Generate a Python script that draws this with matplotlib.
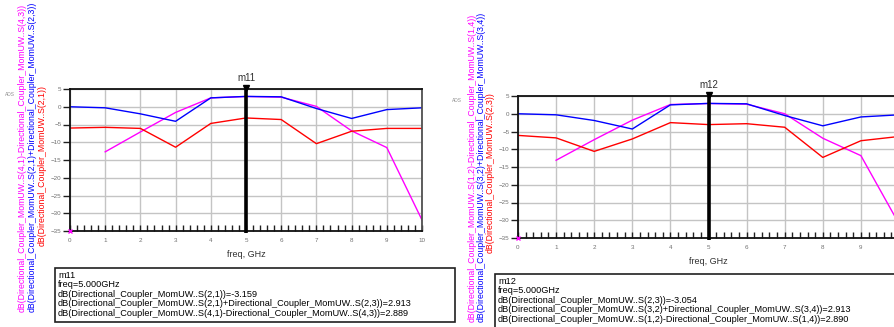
"""Coupler sweep: two ADS-style rectangular plots with marker readouts."""
import matplotlib
matplotlib.use("Agg")
import matplotlib.pyplot as plt
from matplotlib.patches import Rectangle
from matplotlib.ticker import MultipleLocator

plt.rcParams["font.family"] = ["Liberation Sans", "DejaVu Sans"]

W, H = 894, 327

freq = [0, 1, 2, 3, 4, 5, 6, 7, 8, 9, 10]
freq_ticks = ["0", "1", "2", "3", "4", "5", "6", "7", "8", "9", "10"]

# m11 plot: S21, S21+S23, S41-S43 (dB)
s21 = [-6.0, -5.8, -6.1, -11.4, -4.7, -3.159, -3.6, -10.4, -6.9, -6.1, -6.1]
s21_s23 = [0.0, -0.3, -2.0, -4.1, 2.5, 2.913, 2.8, -0.5, -3.3, -0.8, -0.3]
freq_iso1 = [1, 2, 3, 4, 5, 6, 7, 8, 9, 10]
s41_s43 = [-12.7, -7.1, -1.6, 2.5, 2.889, 2.7, 0.1, -6.8, -11.5, -31.9]

# m12 plot: S23, S32+S34, S12-S14 (dB)
s23 = [-6.1, -6.8, -10.6, -7.1, -2.5, -3.054, -2.8, -3.8, -12.3, -7.6, -6.4]
s32_s34 = [0.0, -0.3, -1.9, -4.3, 2.5, 2.913, 2.8, -0.5, -3.4, -0.9, -0.3]
freq_iso2 = [1, 2, 3, 4, 5, 6, 7, 8, 9, 10]
s12_s14 = [-13.1, -7.3, -1.8, 2.6, 2.890, 2.7, 0.0, -6.9, -11.8, -31.0]

marker_freq = 5.0

plots = [
    dict(name="m11", box=(70, 89, 422, 231),
         curves=[(freq_iso1, s41_s43, "#ff00ff"), (freq, s21_s23, "#0000ff"), (freq, s21, "#ff0000")],
         ylabels=["dB(Directional_Coupler_MomUW..S(4,1)-Directional_Coupler_MomUW..S(4,3))",
                  "dB(Directional_Coupler_MomUW..S(2,1)+Directional_Coupler_MomUW..S(2,3))",
                  "dB(Directional_Coupler_MomUW..S(2,1))"],
         ylab_x=[22, 32, 42], ylab_bottom=312, xlabels=freq_ticks,
         readout=["m11", "freq=5.000GHz",
                  "dB(Directional_Coupler_MomUW..S(2,1))=-3.159",
                  "dB(Directional_Coupler_MomUW..S(2,1)+Directional_Coupler_MomUW..S(2,3))=2.913",
                  "dB(Directional_Coupler_MomUW..S(4,1)-Directional_Coupler_MomUW..S(4,3))=2.889"],
         rbox=(55, 268, 455, 322), ads=(10, 94)),
    dict(name="m12", box=(518, 96, 899, 238),
         curves=[(freq_iso2, s12_s14, "#ff00ff"), (freq, s32_s34, "#0000ff"), (freq, s23, "#ff0000")],
         ylabels=["dB(Directional_Coupler_MomUW..S(1,2)-Directional_Coupler_MomUW..S(1,4))",
                  "dB(Directional_Coupler_MomUW..S(3,2)+Directional_Coupler_MomUW..S(3,4))",
                  "dB(Directional_Coupler_MomUW..S(2,3))"],
         ylab_x=[472, 481, 490], ylab_bottom=322, xlabels=freq_ticks[:-1] + [""],
         readout=["m12", "freq=5.000GHz",
                  "dB(Directional_Coupler_MomUW..S(2,3))=-3.054",
                  "dB(Directional_Coupler_MomUW..S(3,2)+Directional_Coupler_MomUW..S(3,4))=2.913",
                  "dB(Directional_Coupler_MomUW..S(1,2)-Directional_Coupler_MomUW..S(1,4))=2.890"],
         rbox=(495, 274, 900, 330), ads=(457, 100)),
]

fig = plt.figure(figsize=(W / 100, H / 100), dpi=100)


def fx(x):
    return x / W


def fy(y):
    return 1 - y / H


for p in plots:
    x0, y0, x1, y1 = p["box"]
    ax = fig.add_axes([fx(x0), fy(y1), (x1 - x0) / W, (y1 - y0) / H])
    for xs, ys, c in p["curves"]:
        ax.plot(xs, ys, color=c, lw=1.0)
    ax.set_xlim(0, 10)
    ax.set_ylim(-35, 5)
    ax.set_xticks(freq)
    ax.set_xticklabels(p["xlabels"])
    ax.xaxis.set_minor_locator(MultipleLocator(0.2))
    ax.yaxis.set_major_locator(MultipleLocator(5))
    ax.grid(True, color="#c4c4c4", lw=1.0)
    ax.set_axisbelow(True)
    ax.tick_params(axis="x", which="both", direction="in", length=4, width=1,
                   color="#202020", labelsize=4.5, labelcolor="#707070", pad=5)
    ax.tick_params(axis="y", direction="out", length=5, width=1,
                   color="#202020", labelsize=4.5, labelcolor="#707070", pad=1)
    for side in ["left", "bottom", "top"]:
        ax.spines[side].set_color("#101010")
        ax.spines[side].set_linewidth(1.3)
    ax.spines["right"].set_color("#505050")
    ax.spines["right"].set_linewidth(1.3)
    ax.set_xlabel("freq, GHz", fontsize=6.5, color="#303030", labelpad=5)

    # marker line with its flag at the top
    ax.plot([marker_freq, marker_freq], [5, -35.6], color="black", lw=2.6,
            clip_on=False, zorder=5, solid_capstyle="butt")
    ax.plot([marker_freq], [5.3], marker="v", color="black", ms=4.5,
            clip_on=False, zorder=6)
    ax.text(marker_freq, 6.6, p["name"], ha="center", va="bottom",
            fontsize=7, color="#303030")
    ax.plot([0], [-35], marker="x", color="#ff00ff", ms=3, mew=1,
            clip_on=False, zorder=6)

    # stacked trace names along the left edge; the long ones run off the top
    for label, lx, (_, _, c) in zip(p["ylabels"], p["ylab_x"], p["curves"]):
        if "+" not in label and "-D" not in label:
            fig.text(fx(lx), fy((y0 + y1) / 2 + 6), label, rotation=90, ha="center",
                     va="center", fontsize=6.3, color=c)
        else:
            fig.text(fx(lx), fy(p["ylab_bottom"]), label, rotation=90, ha="center",
                     va="bottom", fontsize=6.3, color=c)

    fig.text(fx(p["ads"][0]), fy(p["ads"][1]), "ADS", fontsize=3.5,
             color="#909090", ha="center", va="center")

    # marker readout box
    bx0, by0, bx1, by1 = p["rbox"]
    fig.patches.append(Rectangle((fx(bx0), fy(by1)), (bx1 - bx0) / W, (by1 - by0) / H,
                                 transform=fig.transFigure, fill=False,
                                 edgecolor="#202020", lw=1.2))
    for i, line in enumerate(p["readout"]):
        fig.text(fx(bx0 + 3), fy(by0 + 7 + i * 9.6), line, fontsize=6.6,
                 color="black", ha="left", va="center")

fig.savefig("out.png", dpi=100)
